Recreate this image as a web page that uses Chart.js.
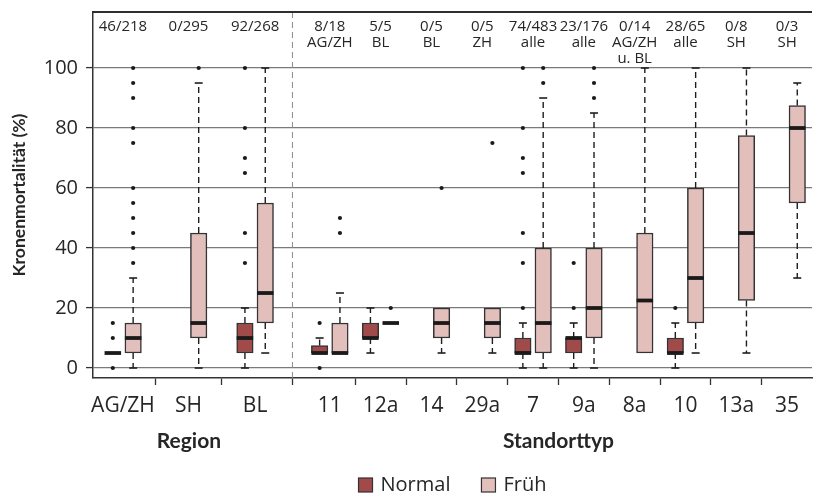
<!DOCTYPE html>
<html lang="de">
<head>
<meta charset="UTF-8">
<title>Kronenmortalität</title>
<script src="https://cdn.jsdelivr.net/npm/chart.js"></script>
<style>
  body { margin: 0; background: #fff; }
  #grafico { display: block; }
</style>
</head>
<body>
<canvas id="grafico" width="816" height="494"></canvas>
<script>
// categories (first 3 = Region, rest = Standorttyp) and their place on the x axis
const kategorien = ['AG/ZH', 'SH', 'BL', '11', '12a', '14', '29a', '7', '9a', '8a', '10', '13a', '35'];
const xPos = [0.93, 2.22, 3.53, 5, 6, 7, 8, 9, 10, 11, 12, 13, 14];
const regionIdx = [0, 1, 2];
const standortIdx = [3, 4, 5, 6, 7, 8, 9, 10, 11, 12];

// counts above the plot
const anzahl = ['46/218', '0/295', '92/268', '8/18', '5/5', '0/5', '0/5', '74/483', '23/176', '0/14', '28/65', '0/8', '0/3'];
const unterText = [[], [], [], ['AG/ZH'], ['BL'], ['BL'], ['ZH'], ['alle'], ['alle'], ['AG/ZH', 'u. BL'], ['alle'], ['SH'], ['SH']];

const yTicks = [0, 20, 40, 60, 80, 100];

// Normal
const normalMin = [5, null, 0, 5, 5, null, null, 0, 0, null, 0, null, null];
const normalQ1 = [5, null, 5, 5, 10, null, null, 5, 5, null, 5, null, null];
const normalMed = [5, null, 10, 5, 10, null, null, 5, 10, null, 5, null, null];
const normalQ3 = [5, null, 15, 7.5, 15, null, null, 10, 10, null, 10, null, null];
const normalMax = [5, null, 20, 10, 20, null, null, 15, 15, null, 15, null, null];
const normalAusreisser = [[0, 10, 15], [], [35, 45, 65, 70, 80, 100], [0, 15], [], [], [], [20, 35, 45, 65, 70, 80, 100], [20, 35], [], [20], [], []];

// Früh
const fruehMin = [0, 0, 5, 5, 15, 5, 5, 0, 0, 5, 5, 5, 30];
const fruehQ1 = [5, 10, 15, 5, 15, 10, 10, 5, 10, 5, 15, 22.5, 55];
const fruehMed = [10, 15, 25, 5, 15, 15, 15, 15, 20, 22.5, 30, 45, 80];
const fruehQ3 = [15, 45, 55, 15, 15, 20, 20, 40, 40, 45, 60, 77.5, 87.5];
const fruehMax = [30, 95, 100, 25, 15, 20, 20, 90, 85, 100, 100, 100, 95];
const fruehAusreisser = [[35, 40, 45, 50, 55, 60, 75, 80, 90, 95, 100], [100], [], [45, 50], [20], [60], [75], [95, 100], [90, 95, 100], [], [], [], []];

const versatz = 0.2;     // shift of Normal / Früh from the category position
const boxBreite = 16.5;  // px

const serien = [
  { name: 'Normal', farbe: '#a04a4a', off: -versatz, min: normalMin, q1: normalQ1, med: normalMed, q3: normalQ3, max: normalMax, aus: normalAusreisser },
  { name: 'Früh', farbe: '#e2bfbb', off: versatz, min: fruehMin, q1: fruehQ1, med: fruehMed, q3: fruehQ3, max: fruehMax, aus: fruehAusreisser }
];

const textFarbe = '#262626';
const linienFarbe = '#333';

function boxDaten(s) {
  const d = [];
  for (let i = 0; i < xPos.length; i++) {
    if (s.q1[i] == null) continue;
    d.push({ x: xPos[i] + s.off, y: [s.q1[i], s.q3[i]] });
  }
  return d;
}

function punktDaten(s) {
  const d = [];
  for (let i = 0; i < xPos.length; i++) {
    s.aus[i].forEach(v => d.push({ x: xPos[i] + s.off, y: v }));
  }
  return d;
}

const datasets = [];
serien.forEach(s => {
  datasets.push({
    type: 'bar',
    label: s.name,
    data: boxDaten(s),
    backgroundColor: s.farbe,
    borderColor: linienFarbe,
    borderWidth: 1.5,
    borderSkipped: false,
    grouped: false,
    barThickness: boxBreite,
    maxBarThickness: boxBreite
  });
});
serien.forEach(s => {
  datasets.push({
    type: 'scatter',
    label: s.name + ' Ausreisser',
    data: punktDaten(s),
    showLine: false,
    pointRadius: 2.1,
    pointBackgroundColor: '#1a1a1a',
    pointBorderWidth: 0
  });
});

const boxplotPlugin = {
  id: 'boxplot',
  beforeDatasetsDraw(chart) {
    const ctx = chart.ctx;
    const a = chart.chartArea;
    const x = chart.scales.x;
    ctx.save();
    // dashed divider between Region and Standorttyp
    const trenn = x.getPixelForValue((xPos[regionIdx[regionIdx.length - 1]] + xPos[standortIdx[0]]) / 2);
    ctx.strokeStyle = '#8a8a8a';
    ctx.lineWidth = 1;
    ctx.setLineDash([6, 4]);
    ctx.beginPath();
    ctx.moveTo(trenn, a.top);
    ctx.lineTo(trenn, a.bottom);
    ctx.stroke();
    ctx.restore();
  },
  afterDatasetsDraw(chart) {
    const ctx = chart.ctx;
    const x = chart.scales.x;
    const y = chart.scales.y;
    ctx.save();
    serien.forEach(s => {
      for (let i = 0; i < xPos.length; i++) {
        if (s.q1[i] == null) continue;
        const cx = x.getPixelForValue(xPos[i] + s.off);
        const whisker = (von, bis) => {
          ctx.strokeStyle = '#1e1e1e';
          ctx.lineWidth = 1.4;
          ctx.setLineDash([6, 4]);
          ctx.beginPath();
          ctx.moveTo(cx, y.getPixelForValue(von));
          ctx.lineTo(cx, y.getPixelForValue(bis));
          ctx.stroke();
          ctx.setLineDash([]);
          ctx.lineWidth = 1.6;
          ctx.beginPath();
          ctx.moveTo(cx - 4, y.getPixelForValue(bis));
          ctx.lineTo(cx + 4, y.getPixelForValue(bis));
          ctx.stroke();
        };
        if (s.max[i] > s.q3[i]) whisker(s.q3[i], s.max[i]);
        if (s.min[i] < s.q1[i]) whisker(s.q1[i], s.min[i]);
        // median
        ctx.setLineDash([]);
        ctx.strokeStyle = '#1a1a1a';
        ctx.lineWidth = 3.8;
        const my = y.getPixelForValue(s.med[i]);
        ctx.beginPath();
        ctx.moveTo(cx - boxBreite / 2, my);
        ctx.lineTo(cx + boxBreite / 2, my);
        ctx.stroke();
      }
    });
    ctx.restore();
  },
  afterDraw(chart) {
    const ctx = chart.ctx;
    const x = chart.scales.x;
    const a = chart.chartArea;
    ctx.save();
    // upper frame line
    ctx.fillStyle = '#2e2e2e';
    ctx.fillRect(Math.round(a.left) - 1, Math.round(a.top) - 1, Math.round(a.right - a.left) + 1, 2);

    ctx.fillStyle = textFarbe;
    ctx.textAlign = 'center';
    ctx.textBaseline = 'alphabetic';
    // counts on top
    ctx.font = '15px "Open Sans"';
    for (let i = 0; i < xPos.length; i++) {
      const px = x.getPixelForValue(xPos[i]);
      ctx.fillText(anzahl[i], px, 31);
      unterText[i].forEach((t, k) => ctx.fillText(t, px, 47 + k * 15.5));
    }
    // group labels
    ctx.font = 'bold 21px Lato';
    const mitte = idx => idx.reduce((s, i) => s + xPos[i], 0) / idx.length;
    ctx.fillText('Region', x.getPixelForValue(mitte(regionIdx)), 448);
    ctx.fillText('Standorttyp', x.getPixelForValue(mitte(standortIdx)), 448);
    // legend
    ctx.font = '20px "Open Sans"';
    ctx.textAlign = 'left';
    ctx.textBaseline = 'middle';
    const box = 14, luecke = 8, abstand = 31;
    let breite = 0;
    serien.forEach((s, k) => {
      breite += box + luecke + ctx.measureText(s.name).width;
      if (k < serien.length - 1) breite += abstand;
    });
    let lx = (a.left + a.right) / 2 - breite / 2;
    const ly = 485;
    serien.forEach(s => {
      ctx.fillStyle = s.farbe;
      ctx.fillRect(lx, ly - box / 2, box, box);
      ctx.strokeStyle = linienFarbe;
      ctx.lineWidth = 1.2;
      ctx.strokeRect(lx, ly - box / 2, box, box);
      lx += box + luecke;
      ctx.fillStyle = textFarbe;
      ctx.fillText(s.name, lx, ly);
      lx += ctx.measureText(s.name).width + abstand;
    });
    ctx.restore();
  }
};

new Chart(document.getElementById('grafico'), {
  type: 'bar',
  data: { datasets: datasets },
  plugins: [boxplotPlugin],
  options: {
    responsive: false,
    animation: false,
    layout: { padding: { top: 12, right: 0, left: 0, bottom: 0 } },
    plugins: {
      legend: { display: false },
      tooltip: { enabled: false }
    },
    scales: {
      x: {
        type: 'linear',
        offset: false,
        min: 0.34,
        max: 14.49,
        afterBuildTicks: axis => { axis.ticks = xPos.map(v => ({ value: v })); },
        afterFit: axis => { axis.height = 116; axis.paddingLeft = 0; axis.paddingRight = 0; },
        grid: { drawOnChartArea: false, drawTicks: true, tickLength: 7, tickColor: linienFarbe, tickWidth: 1.3 },
        border: { color: linienFarbe, width: 1.5 },
        ticks: {
          autoSkip: false,
          maxRotation: 0,
          padding: 8,
          color: textFarbe,
          font: { family: 'Open Sans', size: 21 },
          callback: (v, i) => kategorien[i]
        }
      },
      y: {
        min: -3.33,
        max: 118.67,
        afterBuildTicks: axis => { axis.ticks = yTicks.map(v => ({ value: v })); },
        afterFit: axis => { axis.width = 93; axis.paddingTop = 0; axis.paddingBottom = 0; },
        grid: { color: '#7a7a7a', lineWidth: 1.2, tickLength: 7, tickColor: linienFarbe, tickWidth: 1.3 },
        border: { color: linienFarbe, width: 1.5 },
        ticks: {
          padding: 8,
          color: textFarbe,
          font: { family: 'Open Sans', size: 20 }
        },
        title: {
          display: true,
          text: 'Kronenmortalität (%)',
          color: textFarbe,
          font: { family: 'Lato', size: 17.5, weight: 'bold' },
          padding: { top: 9, bottom: 0 }
        }
      }
    }
  }
});
</script>
</body>
</html>
